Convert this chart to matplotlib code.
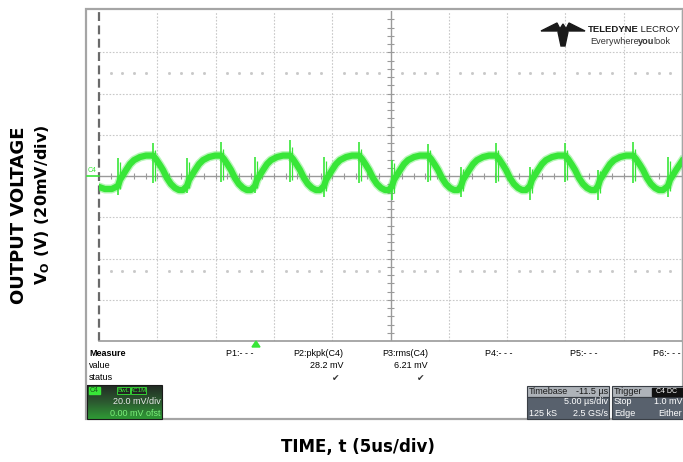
import numpy as np
import matplotlib.pyplot as plt
from matplotlib.patches import Rectangle, Polygon
from matplotlib.colors import LinearSegmentedColormap

W, H = 683, 462

# trace: time in us (5 us/div), level in mV (20 mV/div)
trace_t = [0.00, 0.50, 1.10,
           1.63, 1.80, 2.06, 2.32, 2.66, 3.00, 3.52, 4.03,
           4.63, 4.89, 5.23, 5.49, 5.83, 6.17, 6.52, 6.86, 7.20,
           7.55, 7.72, 7.98, 8.24, 8.58, 8.92, 9.44, 9.95,
           10.46, 10.72, 11.06, 11.32, 11.66, 12.00, 12.35, 12.69, 13.03,
           13.38, 13.55, 13.81, 14.07, 14.41, 14.75, 15.27, 15.78,
           16.38, 16.64, 16.98, 17.24, 17.58, 17.92, 18.27, 18.61, 18.95,
           19.30, 19.47, 19.73, 19.99, 20.33, 20.67, 21.19, 21.70,
           22.30, 22.56, 22.90, 23.16, 23.50, 23.84, 24.19, 24.53, 24.87,
           25.13, 25.30, 25.56, 25.82, 26.16, 26.50, 27.02, 27.53,
           28.22, 28.48, 28.82, 29.08, 29.42, 29.76, 30.11, 30.45, 30.79,
           31.05, 31.22, 31.48, 31.74, 32.08, 32.42, 32.94, 33.45,
           34.05, 34.31, 34.65, 34.91, 35.25, 35.59, 35.94, 36.28, 36.62,
           36.96, 37.13, 37.39, 37.65, 37.99, 38.33, 38.85, 39.36,
           39.97, 40.23, 40.57, 40.83, 41.17, 41.51, 41.86, 42.20, 42.54,
           42.80, 42.97, 43.23, 43.49, 43.83, 44.17, 44.69, 45.20,
           45.80, 46.06, 46.40, 46.66, 47.00, 47.34, 47.69, 48.03, 48.37,
           48.80, 48.97, 49.23, 49.49, 49.83, 50.00]
trace_mv = [-5.3, -6.3, -6.3,
            -4.8, -1.9, 0.5, 2.9, 5.8, 7.7, 9.2, 9.9,
            9.9, 8.2, 5.3, 2.9, -1.0, -3.9, -5.8, -6.8, -6.8,
            -4.8, -1.9, 0.5, 2.9, 5.8, 7.7, 9.2, 9.9,
            9.9, 8.2, 5.3, 2.9, -1.0, -3.9, -5.8, -6.8, -6.8,
            -4.8, -1.9, 0.5, 2.9, 5.8, 7.7, 9.2, 9.9,
            9.9, 8.2, 5.3, 2.9, -1.0, -3.9, -5.8, -6.8, -6.8,
            -4.8, -1.9, 0.5, 2.9, 5.8, 7.7, 9.2, 9.9,
            9.9, 8.2, 5.3, 2.9, -1.0, -3.9, -5.8, -6.8, -6.8,
            -4.8, -1.9, 0.5, 2.9, 5.8, 7.7, 9.2, 9.9,
            9.9, 8.2, 5.3, 2.9, -1.0, -3.9, -5.8, -6.8, -6.8,
            -4.8, -1.9, 0.5, 2.9, 5.8, 7.7, 9.2, 9.9,
            9.9, 8.2, 5.3, 2.9, -1.0, -3.9, -5.8, -6.8, -6.8,
            -4.8, -1.9, 0.5, 2.9, 5.8, 7.7, 9.2, 9.9,
            9.9, 8.2, 5.3, 2.9, -1.0, -3.9, -5.8, -6.8, -6.8,
            -4.8, -1.9, 0.5, 2.9, 5.8, 7.7, 9.2, 9.9,
            9.9, 8.2, 5.3, 2.9, -1.0, -3.9, -5.8, -6.8, -6.8,
            -4.8, -1.9, 0.5, 2.9, 5.8, 7.2]

# switching spikes
spike_t = [1.63, 4.63, 7.55, 10.46, 13.38, 16.38, 19.30, 22.30, 25.13,
           28.22, 31.05, 34.05, 36.96, 39.97, 42.80, 45.80, 48.80]
spike_hi = [8.7, 16.0, 8.7, 16.5, 9.2, 17.4, 9.2, 16.5, 7.7,
            15.5, 4.4, 16.0, 4.4, 16.0, 2.9, 16.5, 9.2]
spike_lo = [-9.2, -3.4, -8.2, -3.0, -8.2, -3.0, -10.2, -3.4, -11.6,
            -3.0, -10.2, -3.4, -11.6, -3.0, -11.6, -3.4, -10.2]

meas_names = ["P1:- - -", "P2:pkpk(C4)", "P3:rms(C4)", "P4:- - -", "P5:- - -", "P6:- - -"]
meas_values = ["", "28.2 mV", "6.21 mV", "", "", ""]

GREEN = "#38e638"
SCOPE_FONT = ["Liberation Sans", "DejaVu Sans"]

fig = plt.figure(figsize=(W / 100, H / 100), dpi=100)
renderer = fig.canvas.get_renderer()

# ---- scope grid / trace ----
ax = fig.add_axes([99 / W, 1 - 341 / H, (682 - 99) / W, (341 - 11) / H])
ax.set_xlim(0, 50)
ax.set_ylim(-80, 80)
ax.axis("off")
for x in range(5, 50, 5):
    if x != 25:
        ax.axvline(x, color="#c8c8c8", lw=0.8, ls=(0, (1.5, 1.5)))
for y in range(-60, 80, 20):
    if y != 0:
        ax.axhline(y, color="#c8c8c8", lw=0.8, ls=(0, (1.5, 1.5)))
ax.axhline(0, color="#9a9a9a", lw=1.0)
ax.axvline(25, color="#9a9a9a", lw=1.0)
ax.vlines(np.arange(1, 50), -1.3, 1.3, color="#9a9a9a", lw=0.8)
ax.hlines(np.arange(-76, 80, 4), 24.7, 25.3, color="#9a9a9a", lw=0.8)
ax.axvline(0, color="#6a6a6a", lw=1.6, ls=(0, (4, 2)), clip_on=False)
ax.axvline(50, color="#9a9a9a", lw=1.0, clip_on=False)
ax.axhline(-80, color="#9a9a9a", lw=1.2, clip_on=False)
# sparse dotted rows
dots_t = [t for t in range(1, 50) if t % 5]
ax.plot(dots_t, [50] * len(dots_t), ls="none", marker="s", ms=1.0, color="#c8c8c8")
ax.plot(dots_t, [-46] * len(dots_t), ls="none", marker="s", ms=1.0, color="#c8c8c8")

ax.plot(trace_t, trace_mv, color=GREEN, lw=6.5, alpha=0.35, solid_joinstyle="round")
ax.plot(trace_t, trace_mv, color=GREEN, lw=4.5, solid_joinstyle="round")
ax.vlines(spike_t, spike_lo, spike_hi, color=GREEN, lw=1.2)
ax.vlines(np.array(spike_t) + 0.15, np.array(spike_lo) * 0.7, np.array(spike_hi) * 0.8,
          color=GREEN, lw=0.9)

# ---- overlay in pixel coordinates ----
ov = fig.add_axes([0, 0, 1, 1], zorder=5)
ov.patch.set_alpha(0)
ov.axis("off")
ov.set_xlim(0, W)
ov.set_ylim(H, 0)


def text_row(x, y, parts, size, color):
    # consecutive text pieces with different weights, placed one after another
    for s, wgt in parts:
        t = ov.text(x, y, s, fontsize=size, weight=wgt, color=color, family=SCOPE_FONT, va="center")
        x += t.get_window_extent(renderer).width - 1


# screenshot frame
ov.add_patch(Rectangle((86, 9), 597, 410, fill=False, ec="#a5a5a5", lw=1.6))

# C4 marker on the left edge
ov.text(88, 170, "C4", fontsize=5, color=GREEN, family=SCOPE_FONT, va="center")
ov.plot([87, 99], [176, 176], color=GREEN, lw=1.2)
# trigger position marker
ov.add_patch(Polygon([[252, 347], [260, 347], [256, 341]], color=GREEN))

# logo
ov.add_patch(Polygon([[541, 31], [557, 23], [561, 31]], color="#1a1a1a"))
ov.add_patch(Polygon([[585, 31], [569, 23], [565, 31]], color="#1a1a1a"))
ov.add_patch(Polygon([[558, 32], [563, 24], [568, 32], [565, 46], [561, 46]], color="#1a1a1a"))
text_row(588, 30, [("TELEDYNE", "bold"), (" LECROY", "normal")], 6.8, "#1a1a1a")
text_row(590, 41, [("Everywhere", "normal"), ("you", "bold"), ("look", "normal")], 6.6, "#333333")

# measurement table
ov.text(89, 354, "Measure", fontsize=6.5, weight="bold", family=SCOPE_FONT, va="center")
ov.text(89, 366, "value", fontsize=6.5, family=SCOPE_FONT, va="center")
ov.text(89, 378, "status", fontsize=6.5, family=SCOPE_FONT, va="center")
meas_x = [226, 343, 428, 485, 570, 653]
for i, name in enumerate(meas_names):
    ha = "right" if meas_values[i] else "left"
    ov.text(meas_x[i], 354, name, fontsize=6.5, family=SCOPE_FONT, va="center", ha=ha)
    if meas_values[i]:
        ov.text(meas_x[i], 366, meas_values[i], fontsize=6.5, family=SCOPE_FONT, va="center", ha="right")
        ov.text(meas_x[i] - 7, 378, "\u2714", fontsize=6.5, color="#333333",
                family="DejaVu Sans", va="center", ha="center")

# C4 channel box
cmap = LinearSegmentedColormap.from_list("c4", ["#222a24", "#2c5a30", "#2f9a35"])
ov.imshow(np.linspace(0, 1, 50).reshape(-1, 1), extent=(87, 162, 419, 385), aspect="auto",
          cmap=cmap, zorder=1)
ov.add_patch(Rectangle((87, 385), 75, 34, fill=False, ec="#1a1a1a", lw=0.8, zorder=2))
ov.add_patch(Rectangle((89, 387), 11, 7, color=GREEN, zorder=3))
ov.text(94.5, 390.5, "C4", fontsize=5, color="#1a5a1a", family=SCOPE_FONT, va="center",
        ha="center", zorder=4)
ov.add_patch(Rectangle((117, 387), 13, 7, fc="#222222", ec=GREEN, lw=0.6, zorder=3))
ov.add_patch(Rectangle((131, 387), 15, 7, fc="#222222", ec=GREEN, lw=0.6, zorder=3))
ov.text(123.5, 390.5, "BwL", fontsize=4.5, color=GREEN, family=SCOPE_FONT, va="center", ha="center", zorder=4)
ov.text(138.5, 390.5, "AC1M", fontsize=4.5, color=GREEN, family=SCOPE_FONT, va="center", ha="center", zorder=4)
ov.text(161, 402, "20.0 mV/div", fontsize=6.5, color="#e8e8e8", family=SCOPE_FONT, va="center",
        ha="right", zorder=4)
ov.text(161, 413, "0.00 mV ofst", fontsize=6.5, color="#7af07a", family=SCOPE_FONT, va="center",
        ha="right", zorder=4)

# timebase / trigger boxes
for x0, x1 in [(527, 609), (612, 683)]:
    ov.add_patch(Rectangle((x0, 386), x1 - x0, 11, fc="#aeb3b9", ec="#3a3f46", lw=0.8, zorder=2))
    ov.add_patch(Rectangle((x0, 397), x1 - x0, 22, fc="#58616d", ec="#3a3f46", lw=0.8, zorder=2))
ov.text(529, 391.5, "Timebase", fontsize=6.5, color="#1a1a1a", family=SCOPE_FONT, va="center", zorder=4)
ov.text(608, 391.5, "-11.5 \u00b5s", fontsize=6.5, color="#1a1a1a", family=SCOPE_FONT, va="center",
        ha="right", zorder=4)
ov.text(608, 402, "5.00 \u00b5s/div", fontsize=6.5, color="white", family=SCOPE_FONT, va="center",
        ha="right", zorder=4)
ov.text(529, 413, "125 kS", fontsize=6.5, color="white", family=SCOPE_FONT, va="center", zorder=4)
ov.text(608, 413, "2.5 GS/s", fontsize=6.5, color="white", family=SCOPE_FONT, va="center",
        ha="right", zorder=4)
ov.text(614, 391.5, "Trigger", fontsize=6.5, color="#1a1a1a", family=SCOPE_FONT, va="center", zorder=4)
ov.add_patch(Rectangle((652, 387.5), 31, 8, color="#111111", zorder=3))
ov.text(667, 391.5, "C4 DC", fontsize=5, color="white", family=SCOPE_FONT, va="center",
        ha="center", zorder=4)
ov.text(614, 402, "Stop", fontsize=6.5, color="white", family=SCOPE_FONT, va="center", zorder=4)
ov.text(682, 402, "1.0 mV", fontsize=6.5, color="white", family=SCOPE_FONT, va="center",
        ha="right", zorder=4)
ov.text(614, 413, "Edge", fontsize=6.5, color="white", family=SCOPE_FONT, va="center", zorder=4)
ov.text(682, 413, "Either", fontsize=6.5, color="white", family=SCOPE_FONT, va="center",
        ha="right", zorder=4)

ov.set_xlim(0, W)
ov.set_ylim(H, 0)

# axis titles
fig.text(358 / W, 1 - 447 / H, "TIME, t (5us/div)", fontsize=12, weight="bold",
         ha="center", va="center")
fig.text(19 / W, 1 - 215 / H, "OUTPUT VOLTAGE", fontsize=13, weight="bold",
         rotation=90, ha="center", va="center")
fig.text(43 / W, 1 - 205 / H, r"V$_\mathbf{O}$ (V) (20mV/div)", fontsize=11.5, weight="bold",
         rotation=90, ha="center", va="center")

fig.savefig("out.png", dpi=100)
